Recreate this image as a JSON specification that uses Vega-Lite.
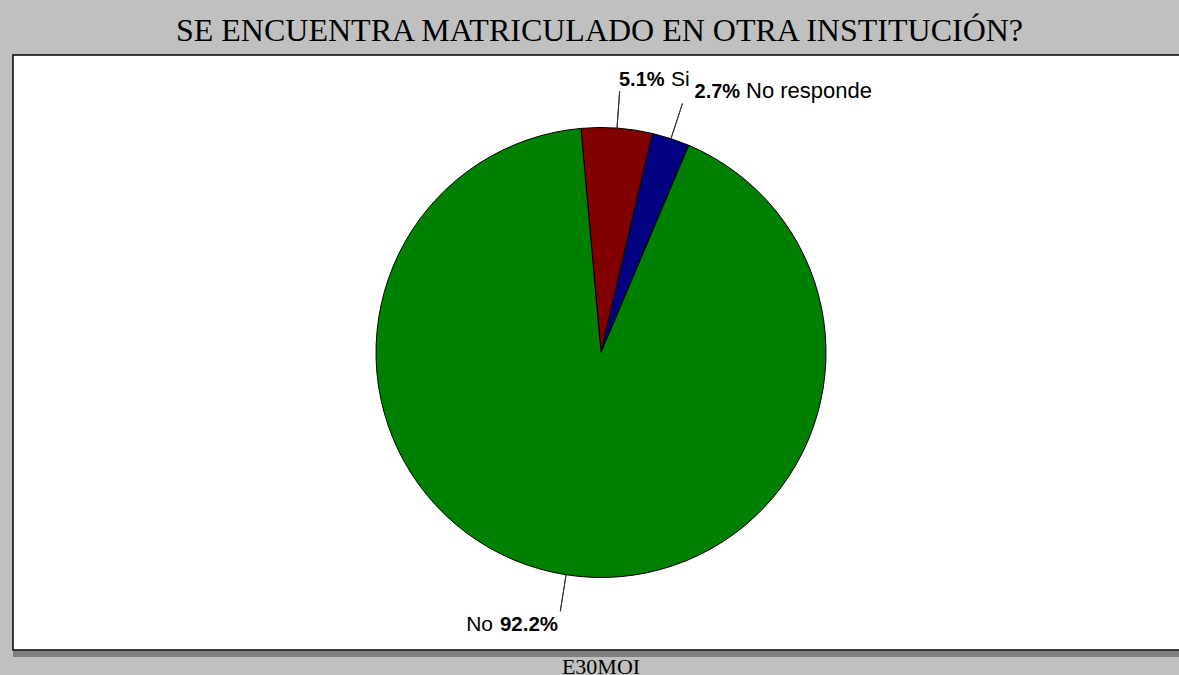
{
  "$schema": "https://vega.github.io/schema/vega-lite/v6.json",
  "autosize": {"type": "pad"},
  "padding": {"left": 12, "top": 14, "right": 0, "bottom": 0},
  "background": "#c0c0c0",
  "spacing": 0,
  "title": {
    "text": "E30MOI",
    "orient": "bottom",
    "anchor": "middle",
    "font": "Liberation Serif",
    "fontSize": 22,
    "fontWeight": "normal",
    "color": "#000000",
    "dx": 0,
    "offset": 0
  },
  "vconcat": [
    {
      "width": 1176,
      "height": 595,
      "view": {"fill": "#ffffff", "stroke": "#000000", "strokeWidth": 1.5},
      "title": {
        "text": "SE ENCUENTRA MATRICULADO EN OTRA INSTITUCIÓN?",
        "anchor": "middle",
        "font": "Liberation Serif",
        "fontSize": 32,
        "fontWeight": "normal",
        "color": "#000000",
        "dx": -1.5,
        "offset": 7
      },
      "data": {
        "values": [
          {"category": "Si", "value": 5.1, "order": 1},
          {"category": "No responde", "value": 2.7, "order": 2},
          {"category": "No", "value": 92.2, "order": 3}
        ]
      },
      "transform": [
        {"stack": "value", "groupby": [], "sort": [{"field": "order", "order": "ascending"}], "as": ["v0", "v1"]},
        {"calculate": "(datum.v0 + datum.v1) / 2", "as": "vm"},
        {"calculate": "format(datum.value, '.1f') + '%'", "as": "pct"}
      ],
      "layer": [
        {
          "mark": {"type": "arc", "outerRadius": 225, "stroke": "#000000", "strokeWidth": 1},
          "encoding": {
            "theta": {"field": "v0", "type": "quantitative", "stack": null, "scale": {"domain": [0, 100], "range": [-0.089, 6.194]}},
            "theta2": {"field": "v1"},
            "color": {
              "field": "category",
              "type": "nominal",
              "scale": {"domain": ["Si", "No responde", "No"], "range": ["#800000", "#000080", "#008000"]},
              "legend": null
            }
          }
        },
        {
          "mark": {"type": "arc", "innerRadius": 225, "outerRadius": 262, "stroke": "#333333", "strokeWidth": 1, "fillOpacity": 0, "fill": "#ffffff"},
          "encoding": {
            "theta": {"field": "vm", "type": "quantitative", "stack": null},
            "theta2": {"field": "vm"}
          }
        },
        {
          "transform": [{"filter": "datum.category === 'Si'"}],
          "mark": {"type": "text", "radius": 267, "align": "left", "baseline": "alphabetic", "dx": -1, "font": "Liberation Sans", "fontSize": 20, "fontWeight": "bold", "color": "#000000"},
          "encoding": {"theta": {"field": "vm", "type": "quantitative", "stack": null}, "text": {"field": "pct"}}
        },
        {
          "transform": [{"filter": "datum.category === 'Si'"}],
          "mark": {"type": "text", "radius": 267, "align": "left", "baseline": "alphabetic", "dx": 51, "font": "Liberation Sans", "fontSize": 21, "color": "#000000"},
          "encoding": {"theta": {"field": "vm", "type": "quantitative", "stack": null}, "text": {"field": "category"}}
        },
        {
          "transform": [{"filter": "datum.category === 'No responde'"}],
          "mark": {"type": "text", "radius": 267, "align": "left", "baseline": "alphabetic", "dx": 10.5, "dy": -1, "font": "Liberation Sans", "fontSize": 20, "fontWeight": "bold", "color": "#000000"},
          "encoding": {"theta": {"field": "vm", "type": "quantitative", "stack": null}, "text": {"field": "pct"}}
        },
        {
          "transform": [{"filter": "datum.category === 'No responde'"}],
          "mark": {"type": "text", "radius": 267, "align": "left", "baseline": "alphabetic", "dx": 62, "dy": -1, "font": "Liberation Sans", "fontSize": 22, "color": "#000000"},
          "encoding": {"theta": {"field": "vm", "type": "quantitative", "stack": null}, "text": {"field": "category"}}
        },
        {
          "transform": [{"filter": "datum.category === 'No'"}],
          "mark": {"type": "text", "radius": 267, "align": "right", "baseline": "alphabetic", "dx": -1.5, "dy": 15, "font": "Liberation Sans", "fontSize": 20.5, "fontWeight": "bold", "color": "#000000"},
          "encoding": {"theta": {"field": "vm", "type": "quantitative", "stack": null}, "text": {"field": "pct"}}
        },
        {
          "transform": [{"filter": "datum.category === 'No'"}],
          "mark": {"type": "text", "radius": 267, "align": "right", "baseline": "alphabetic", "dx": -66.5, "dy": 15, "font": "Liberation Sans", "fontSize": 21, "color": "#000000"},
          "encoding": {"theta": {"field": "vm", "type": "quantitative", "stack": null}, "text": {"field": "category"}}
        }
      ]
    },
    {
      "width": 1176,
      "height": 6,
      "view": {"fill": "#808080", "stroke": null},
      "data": {"values": []},
      "mark": {"type": "point"}
    }
  ]
}
